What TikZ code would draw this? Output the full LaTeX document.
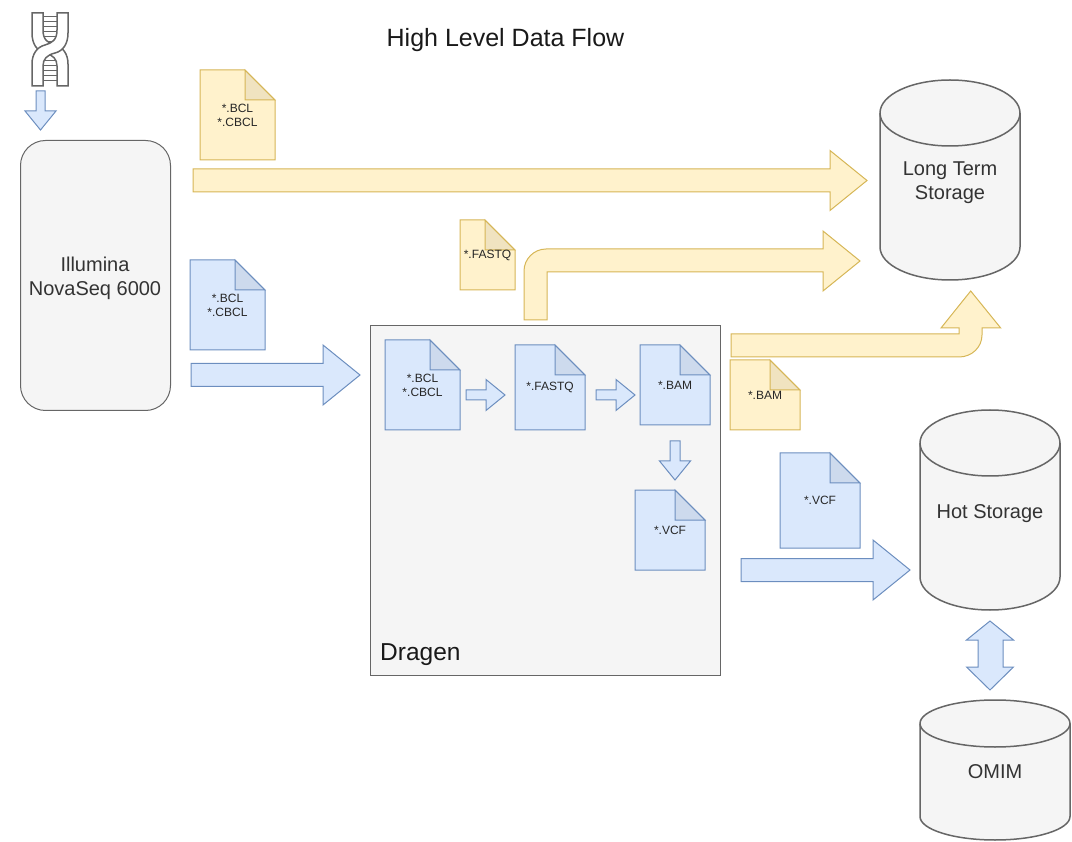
\documentclass[tikz,border=0pt]{standalone}
\usepackage{fontspec}
\setmainfont{Liberation Sans}
\definecolor{bluefill}{HTML}{DAE8FC}
\definecolor{blueline}{HTML}{6C8EBF}
\definecolor{yellowfill}{HTML}{FFF2CC}
\definecolor{yellowline}{HTML}{D6B656}
\definecolor{greyfill}{HTML}{F5F5F5}
\definecolor{greyline}{HTML}{666666}
\definecolor{greytext}{HTML}{333333}
\tikzset{
  bluepart/.style={fill=bluefill,draw=blueline,line width=1pt,line join=miter},
  yellowpart/.style={fill=yellowfill,draw=yellowline,line width=1pt,line join=miter},
  greypart/.style={fill=greyfill,draw=greyline,line width=1.5pt},
  dnapart/.style={fill=white,draw=greyline,line width=1.5pt},
  filelabel/.style={font=\fontsize{12}{14}\selectfont,text=black!85,align=center,inner sep=0pt},
  storelabel/.style={font=\fontsize{20}{24}\selectfont,text=greytext,align=center,inner sep=0pt}
}
% file icon: style, left, top, right, bottom, node name, label
\newcommand{\fileicon}[7]{
  \draw[#1] (#2,#3) -- ({#4-30},#3) -- (#4,{#3+30}) -- (#4,#5) -- (#2,#5) -- cycle;
  \draw[#1,fill=black,fill opacity=0.06] ({#4-30},#3) -- ({#4-30},{#3+30}) -- (#4,{#3+30}) -- cycle;
  \node[filelabel] (#6) at ({(#2+#4)/2},{(#3+#5)/2}) {#7};
}
% storage cylinder: left, top, right, bottom, rim height, node name, label
\newcommand{\storage}[7]{
  \pgfmathsetmacro{\cylx}{(#1+#3)/2}
  \pgfmathsetmacro{\kapx}{0.5523*(#3-#1)/2}
  \pgfmathsetmacro{\kapy}{0.5523*#5}
  \draw[greypart] (#1,{#2+#5}) -- (#1,{#4-#5})
    .. controls (#1,{#4-#5+\kapy}) and ({\cylx-\kapx},#4) .. (\cylx,#4)
    .. controls ({\cylx+\kapx},#4) and (#3,{#4-#5+\kapy}) .. (#3,{#4-#5})
    -- (#3,{#2+#5})
    .. controls (#3,{#2+#5-\kapy}) and ({\cylx+\kapx},#2) .. (\cylx,#2)
    .. controls ({\cylx-\kapx},#2) and (#1,{#2+#5-\kapy}) .. (#1,{#2+#5}) -- cycle;
  \draw[greypart,fill=none] (#1,{#2+#5})
    .. controls (#1,{#2+#5+\kapy}) and ({\cylx-\kapx},{#2+2*#5}) .. (\cylx,{#2+2*#5})
    .. controls ({\cylx+\kapx},{#2+2*#5}) and (#3,{#2+#5+\kapy}) .. (#3,{#2+#5});
  \node[storelabel] (#6) at (\cylx,{(#2+#4)/2+4}) {#7\strut};
}
% right arrow: style, left, right, centre y, head start, half shaft, half head
\newcommand{\rightblock}[7]{
  \draw[#1] (#2,{#4-#6}) -- (#5,{#4-#6}) -- (#5,{#4-#7}) -- (#3,#4) -- (#5,{#4+#7}) -- (#5,{#4+#6}) -- (#2,{#4+#6}) -- cycle;
}
% down arrow: centre x, top, tip, head start, half shaft, half head
\newcommand{\downblock}[6]{
  \draw[bluepart] ({#1-#5},#2) -- ({#1+#5},#2) -- ({#1+#5},#4) -- ({#1+#6},#4) -- (#1,#3) -- ({#1-#6},#4) -- ({#1-#5},#4) -- cycle;
}
\begin{document}
\begin{tikzpicture}[x=1pt,y=-1pt]
  \useasboundingbox (0,0) rectangle (1072,842);

  % Title
  \node[font=\fontsize{25}{29}\selectfont,text=black!90,inner sep=0pt] (title) at (505.5,40) {High Level Data Flow};

  % DNA strand
  \foreach \rung in {17,22,27,32,37,42,61,66,71,76,81}
    \draw[greyline,line width=1pt] (43,\rung) -- (57,\rung);
  \draw[dnapart] (43,30) .. controls (43,40) and (48,43) .. (55,45) .. controls (63,47) and (68,54) .. (68,64) -- (68,86) -- (57,86) -- (57,66) .. controls (57,59) and (53,55) .. (45,53) .. controls (37,51) and (32,44) .. (32,33) -- (32,13) -- (43,13) -- cycle;
  \draw[dnapart] (57,30) .. controls (57,40) and (52,43) .. (45,45) .. controls (37,47) and (32,54) .. (32,64) -- (32,86) -- (43,86) -- (43,66) .. controls (43,59) and (47,55) .. (55,53) .. controls (63,51) and (68,44) .. (68,33) -- (68,13) -- (57,13) -- cycle;
  \downblock{40.5}{91}{130}{111}{4.5}{15.5}

  % Sequencer
  \node[greypart,line width=1pt,rounded corners=25pt,minimum width=150pt,minimum height=270pt,inner sep=0pt,anchor=north west] (novaseq) at (20,140) {};
  \node[storelabel] (novalabel) at (95,278) {Illumina\\NovaSeq 6000};

  % Dragen box
  \node[fill=greyfill,draw=greyline,line width=1pt,minimum width=350pt,minimum height=350pt,inner sep=0pt,anchor=north west] (dragen) at (370,325) {};
  \node[font=\fontsize{24.5}{28}\selectfont,text=black!90,inner sep=0pt,anchor=west] (dragenlabel) at (380,655) {Dragen};

  % Storage
  \storage{880}{80}{1020}{280}{33}{longterm}{Long Term\\Storage}
  \storage{920}{410}{1060}{610}{33}{hot}{Hot Storage}
  \storage{920}{700}{1070}{840}{23.5}{omim}{OMIM}

  % Files outside
  \fileicon{yellowpart}{200}{70}{275}{160}{rawcold}{*.BCL\\*.CBCL}
  \fileicon{bluepart}{190}{260}{265}{350}{rawhot}{*.BCL\\*.CBCL}
  \fileicon{yellowpart}{460}{220}{515}{290}{fastqcold}{*.FASTQ}
  \fileicon{yellowpart}{730}{360}{800}{430}{bamcold}{*.BAM}
  \fileicon{bluepart}{780}{453}{860}{548}{vcfhot}{*.VCF}

  % Files inside Dragen
  \fileicon{bluepart}{385}{340}{460}{430}{rawin}{*.BCL\\*.CBCL}
  \fileicon{bluepart}{515}{345}{585}{430}{fastqin}{*.FASTQ}
  \fileicon{bluepart}{640}{345}{710}{425}{bamin}{*.BAM}
  \fileicon{bluepart}{635}{490}{705}{570}{vcfin}{*.VCF}

  % Big arrows
  \rightblock{yellowpart}{193}{867}{180.5}{830}{11.5}{30}
  \rightblock{bluepart}{191}{360}{375}{323}{11.5}{30}
  \rightblock{bluepart}{741}{910}{570}{873}{11.5}{30}
  \draw[yellowpart] (524,320) -- (524,271) .. controls (524,259) and (534,249) .. (546,249) -- (823,249) -- (823,231) -- (860,261) -- (823,291) -- (823,272) -- (547,272) -- (547,320) -- cycle;
  \draw[yellowpart] (731,334) -- (959,334) -- (959,328) -- (941,328) -- (970.7,291) -- (1000.7,328) -- (982,328) -- (982,335) .. controls (982,347) and (972,357) .. (959,357) -- (731,357) -- cycle;

  % Small arrows in Dragen
  \rightblock{bluepart}{466}{505}{395}{486}{5}{15.5}
  \rightblock{bluepart}{596}{635}{395}{616}{5}{15.5}
  \downblock{675}{441}{480}{461}{5}{15.5}

  % Hot storage to OMIM
  \draw[bluepart] (990,621) -- (1013.5,640) -- (1003,640) -- (1003,667) -- (1013.5,667) -- (990,690) -- (966.5,667) -- (978,667) -- (978,640) -- (966.5,640) -- cycle;
\end{tikzpicture}
\end{document}
